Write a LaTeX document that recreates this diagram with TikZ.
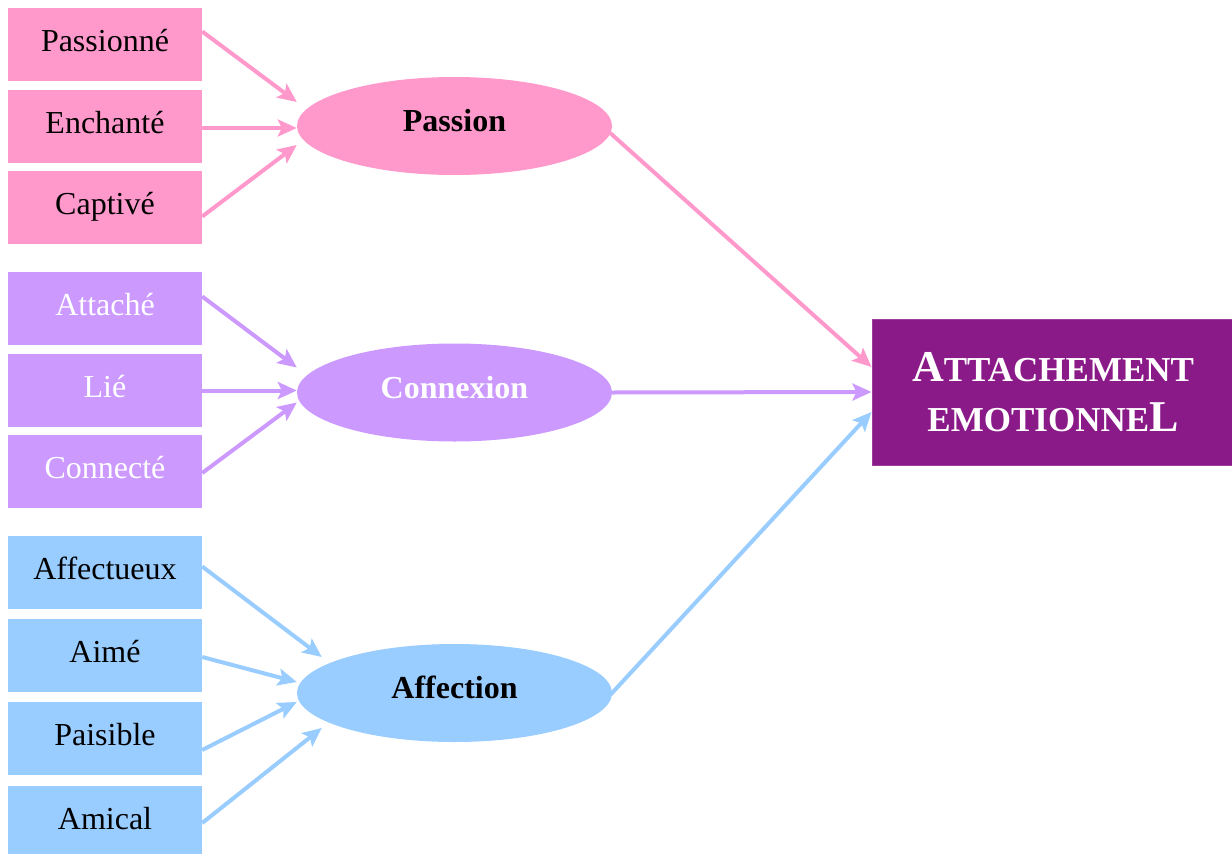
\documentclass[tikz,border=0pt]{standalone}
\usepackage{fontspec}
\setmainfont{Liberation Serif}
\usetikzlibrary{arrows.meta,shapes.geometric,calc}
\definecolor{pinkc}{RGB}{255,153,204}
\definecolor{violetc}{RGB}{204,153,255}
\definecolor{bluec}{RGB}{153,204,255}
\definecolor{purplec}{RGB}{139,26,137}
\tikzset{
  itembox/.style={draw=none,fill=#1,minimum width=194pt,minimum height=73pt,inner sep=0pt,
    font=\fontsize{32}{38}\selectfont,text height=20pt,text depth=7pt},
  factor/.style={ellipse,draw=none,fill=#1,minimum width=315pt,minimum height=98pt,inner sep=0pt,
    font=\fontsize{32}{38}\selectfont\bfseries,text height=20pt,text depth=9pt},
  arr/.style={draw=#1,line width=4pt,-{Stealth[length=19pt,width=17pt,inset=4pt]}},
}
\begin{document}
\begin{tikzpicture}[x=1pt,y=-1pt]
\useasboundingbox (0,0) rectangle (1232,854);
% item boxes
\node[itembox=pinkc] (b1) at (105,44.5) {Passionné};
\node[itembox=pinkc] (b2) at (105,126.5) {Enchanté};
\node[itembox=pinkc] (b3) at (105,207.5) {Captivé};
\node[itembox=violetc,text=white] (b4) at (105,308.5) {Attaché};
\node[itembox=violetc,text=white] (b5) at (105,390.5) {Lié};
\node[itembox=violetc,text=white] (b6) at (105,471.5) {Connecté};
\node[itembox=bluec] (b7) at (105,572.5) {Affectueux};
\node[itembox=bluec] (b8) at (105,655.5) {Aimé};
\node[itembox=bluec] (b9) at (105,738.5) {Paisible};
\node[itembox=bluec] (b10) at (105,822.5) {Amical};
% factors
\node[factor=pinkc] (p) at (454.5,126) {Passion};
\node[factor=violetc,text=white] (c) at (454.5,392.5) {Connexion};
\node[factor=bluec] (a) at (454.5,693) {Affection};
% target
\node[fill=purplec,draw=purplec!85!white,line width=1pt,minimum width=362pt,minimum height=146pt,inner sep=0pt,
  text=white,align=center,font=\fontsize{35}{50}\selectfont\bfseries] (t) at (1053,392)
  {{\fontsize{44}{50}\selectfont A}TTACHEMENT\\
   EMOTIONNE{\fontsize{44}{50}\selectfont L}};
% arrows into Passion
\draw[arr=pinkc] ($(b1.east)+(0,-13)$) -- ($(p.west)+(0,-24)$);
\draw[arr=pinkc] ($(b2.east)+(0,1.5)$) -- ($(p.west)+(0,2)$);
\draw[arr=pinkc] ($(b3.east)+(0,9)$) -- ($(p.west)+(0,19)$);
% arrows into Connexion
\draw[arr=violetc] ($(b4.east)+(0,-12)$) -- ($(c.west)+(0,-25)$);
\draw[arr=violetc] ($(b5.east)+(0,0)$) -- ($(c.west)+(0,-2)$);
\draw[arr=violetc] ($(b6.east)+(0,1.5)$) -- ($(c.west)+(0,10)$);
% arrows into Affection
\draw[arr=bluec] ($(b7.east)+(0,-6)$) -- ($(a.west)+(25,-36)$);
\draw[arr=bluec] ($(b8.east)+(0,1.5)$) -- ($(a.west)+(0,-11)$);
\draw[arr=bluec] ($(b9.east)+(0,11.5)$) -- ($(a.west)+(0,9)$);
\draw[arr=bluec] ($(b10.east)+(0,0.5)$) -- ($(a.west)+(25,35)$);
% arrows into target
\draw[arr=pinkc] ($(p.east)+(-2,7)$) -- ($(t.west)+(0,-25)$);
\draw[arr=violetc] (c.east) -- (t.west);
\draw[arr=bluec] ($(a.east)+(-2,2)$) -- ($(t.west)+(0,20)$);
\end{tikzpicture}
\end{document}
